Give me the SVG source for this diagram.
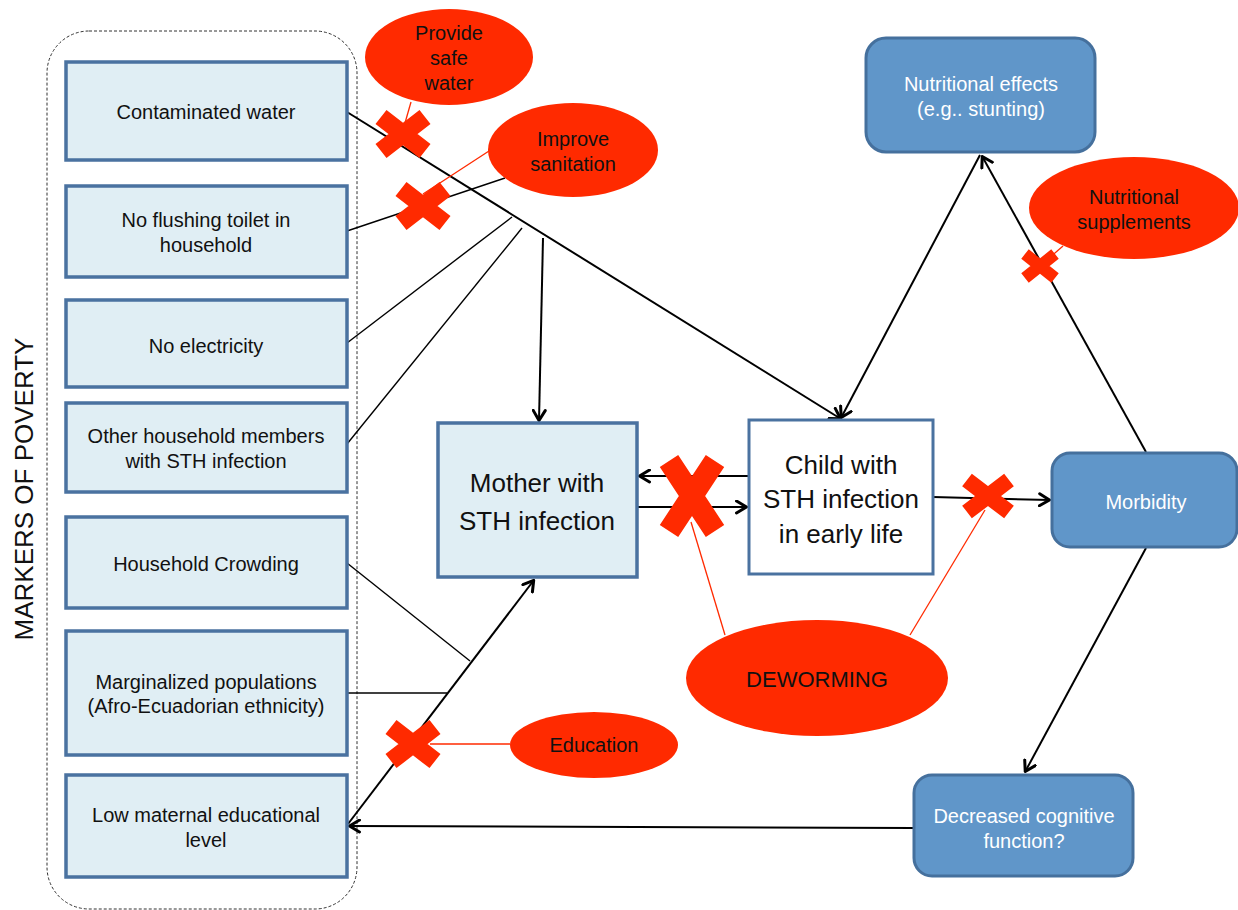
<svg xmlns="http://www.w3.org/2000/svg" width="1238" height="910" viewBox="0 0 1238 910">
<defs>
<style>
.lb{fill:#E0EEF4;stroke:#4A72A0;stroke-width:3.5}
.bn{fill:#6096C9;stroke:#45709D;stroke-width:3}
.wb{fill:#fff;stroke:#4A72A0;stroke-width:3}
.red{fill:#FF2A00}
.t{font-family:"Liberation Sans",Arial,sans-serif;fill:#111;text-anchor:middle}
.s19{font-size:20px}
.s20{font-size:20px}
.big{font-size:26px}
.wt{fill:#fff}
.ar{stroke:#000;stroke-width:2;fill:none}
.ln{stroke:#000;stroke-width:1.4;fill:none}
.rl{stroke:#FF2A00;stroke-width:1.3;fill:none}
.xx{stroke:#FF2A00;fill:none}
</style>
<marker id="ah" viewBox="0 0 13 15" refX="12" refY="7.5" markerWidth="13" markerHeight="15" markerUnits="userSpaceOnUse" orient="auto">
<path d="M1.5,1.5 L11.5,7.5 L1.5,13.5" fill="none" stroke="#000" stroke-width="3" stroke-linecap="round" stroke-linejoin="round"/>
</marker>
</defs>
<rect width="1238" height="910" fill="#fff"/>

<g id="poverty-group">
<rect x="47" y="31" width="310" height="878" rx="42" fill="none" stroke="#333" stroke-width="1" stroke-dasharray="3,2"/>
<text class="t" font-size="26" transform="translate(33,489) rotate(-90)" fill="#111">MARKERS OF POVERTY</text>
</g>

<g id="connectors">
<line class="ar" x1="347" y1="112" x2="841" y2="419" marker-end="url(#ah)"/>
<line class="ln" x1="347" y1="231" x2="505" y2="178"/>
<line class="ln" x1="347" y1="343" x2="512" y2="217"/>
<line class="ln" x1="347" y1="444" x2="522" y2="228"/>
<line class="ar" x1="543" y1="238" x2="539" y2="421" marker-end="url(#ah)"/>
<line class="ln" x1="347" y1="563" x2="470" y2="661"/>
<line class="ln" x1="347" y1="693" x2="447" y2="693"/>
<line class="ar" x1="348" y1="824" x2="534" y2="580" marker-end="url(#ah)"/>
<line class="ar" x1="914" y1="828" x2="349" y2="826" marker-end="url(#ah)"/>
<line class="ar" x1="749" y1="476" x2="639" y2="476" marker-end="url(#ah)"/>
<line class="ar" x1="636" y1="507" x2="747" y2="507" marker-end="url(#ah)"/>
<line class="ar" x1="933" y1="497" x2="1050" y2="500" marker-end="url(#ah)"/>
<line class="ar" x1="980" y1="155" x2="841" y2="418" marker-end="url(#ah)"/>
<line class="ar" x1="1146" y1="452" x2="982" y2="156" marker-end="url(#ah)"/>
<line class="ar" x1="1146" y1="548" x2="1025" y2="772" marker-end="url(#ah)"/>
<line class="rl" x1="411" y1="102" x2="403" y2="130"/>
<line class="rl" x1="489" y1="151" x2="423" y2="194"/>
<line class="rl" x1="1063" y1="246" x2="1040" y2="266"/>
<line class="rl" x1="725" y1="635" x2="691" y2="522"/>
<line class="rl" x1="910" y1="635" x2="985" y2="510"/>
<line class="rl" x1="510" y1="744" x2="430" y2="744"/>
</g>

<g id="n-contaminated"><rect class="lb" x="66" y="62" width="281" height="98"/><text class="t s19" x="206" y="119">Contaminated water</text></g>
<g id="n-toilet"><rect class="lb" x="66" y="186" width="281" height="91"/><text class="t s19" x="206" y="227">No flushing toilet in</text><text class="t s19" x="206" y="252">household</text></g>
<g id="n-electricity"><rect class="lb" x="66" y="300" width="281" height="87"/><text class="t s19" x="206" y="353">No electricity</text></g>
<g id="n-household"><rect class="lb" x="66" y="403" width="281" height="89"/><text class="t s19" x="206" y="443">Other household members</text><text class="t s19" x="206" y="468">with STH infection</text></g>
<g id="n-crowding"><rect class="lb" x="66" y="517" width="281" height="91"/><text class="t s19" x="206" y="571">Household Crowding</text></g>
<g id="n-marginalized"><rect class="lb" x="66" y="631" width="281" height="124"/><text class="t s19" x="206" y="689">Marginalized populations</text><text class="t s19" x="206" y="713">(Afro-Ecuadorian ethnicity)</text></g>
<g id="n-education-level"><rect class="lb" x="66" y="775" width="281" height="102"/><text class="t s19" x="206" y="822">Low maternal educational</text><text class="t s19" x="206" y="847">level</text></g>

<g id="n-mother"><rect class="lb" x="438" y="423" width="199" height="154"/><text class="t big" x="537" y="492">Mother with</text><text class="t big" x="537" y="530">STH infection</text></g>
<g id="n-child"><rect class="wb" x="749" y="420" width="184" height="154"/><text class="t big" x="841" y="474">Child with</text><text class="t big" x="841" y="508">STH infection</text><text class="t big" x="841" y="543">in early life</text></g>

<g id="n-nutritional"><rect class="bn" x="866" y="38" width="229" height="114" rx="20"/><text class="t s19 wt" x="981" y="91">Nutritional effects</text><text class="t s19 wt" x="981" y="116">(e.g.. stunting)</text></g>
<g id="n-morbidity"><rect class="bn" x="1052" y="453" width="185" height="94" rx="18"/><text class="t s19 wt" x="1146" y="509">Morbidity</text></g>
<g id="n-cognitive"><rect class="bn" x="914" y="775" width="219" height="101" rx="18"/><text class="t s19 wt" x="1024" y="823">Decreased cognitive</text><text class="t s19 wt" x="1024" y="848">function?</text></g>

<g id="i-water"><ellipse class="red" cx="449" cy="57" rx="84" ry="48"/><text class="t s20" x="449" y="40">Provide</text><text class="t s20" x="449" y="65">safe</text><text class="t s20" x="449" y="90">water</text></g>
<g id="i-sanitation"><ellipse class="red" cx="573" cy="150" rx="85" ry="47"/><text class="t s20" x="573" y="146">Improve</text><text class="t s20" x="573" y="171">sanitation</text></g>
<g id="i-supplements"><ellipse class="red" cx="1134" cy="208" rx="105" ry="51"/><text class="t s20" x="1134" y="204">Nutritional</text><text class="t s20" x="1134" y="229">supplements</text></g>
<g id="i-deworming"><ellipse class="red" cx="817" cy="678" rx="131" ry="58"/><text class="t" font-size="22" x="817" y="687">DEWORMING</text></g>
<g id="i-education"><ellipse class="red" cx="594" cy="745" rx="84" ry="33"/><text class="t s20" x="594" y="752">Education</text></g>

<g id="x-marks">
<path class="xx" stroke-width="18" d="M381,117 L425,151 M381,151 L425,117"/>
<path class="xx" stroke-width="18" d="M401,189 L445,223 M401,223 L445,189"/>
<path class="xx" stroke-width="18" d="M391,727 L435,761 M391,761 L435,727"/>
<path class="xx" stroke-width="12" d="M1025,254 L1055,278 M1025,278 L1055,254"/>
<path class="xx" stroke-width="22" d="M669,461 L715,531 M669,531 L715,461"/>
<path class="xx" stroke-width="16" d="M967,480 L1009,512 M967,512 L1009,480"/>
</g>
</svg>
